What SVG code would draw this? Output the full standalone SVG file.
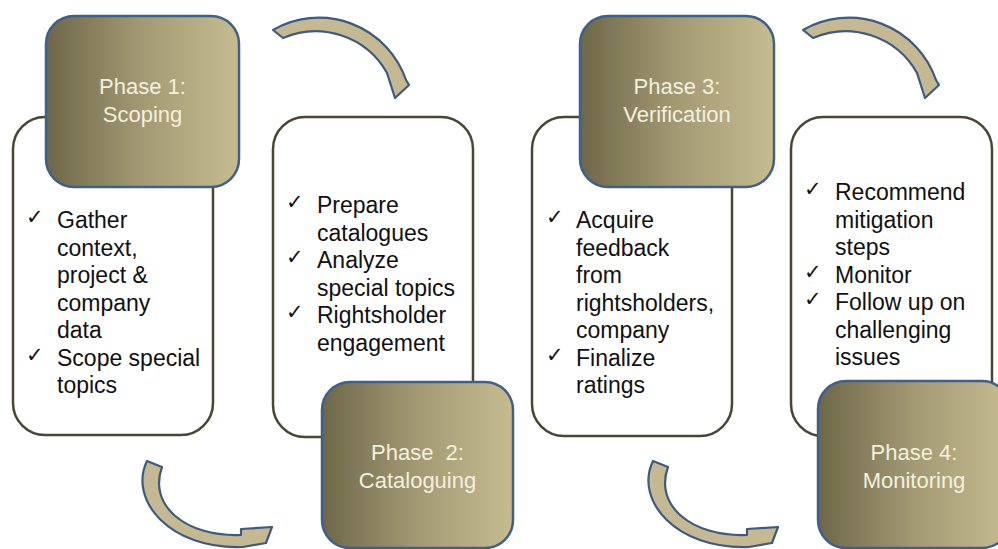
<svg xmlns="http://www.w3.org/2000/svg" width="998" height="549" viewBox="0 0 998 549">
<defs>
<linearGradient id="phaseGrad" x1="0" y1="0" x2="1" y2="0">
<stop offset="0" stop-color="#6e6747"/>
<stop offset="0.5" stop-color="#a39a74"/>
<stop offset="1" stop-color="#c6bc90"/>
</linearGradient>
</defs>
<style>
.white{fill:#ffffff;stroke:#4a4632;stroke-width:2.5}
.phase{fill:url(#phaseGrad);stroke:#3f5f8c;stroke-width:2.5}
.arrow{fill:#c4b990;stroke:#3e5a80;stroke-width:2.2;stroke-linejoin:round}
.ptxt{font-family:"Liberation Sans",Arial,sans-serif;font-size:22px;fill:#f4f0de;text-anchor:middle}
.btxt{font-family:"Liberation Sans",Arial,sans-serif;font-size:23px;fill:#111111}
.chk{font-family:"DejaVu Sans",sans-serif;font-size:21px;fill:#111111}
</style>
<rect width="998" height="549" fill="#ffffff"/>
<g id="connectors">
<path id="arrow-1-2" class="arrow" d="M273,30 A92,92 0 0 1 406,80 L409,85 L395,98 L387,73 A82,82 0 0 0 283,38 Z"/>
<path id="arrow-2-3" class="arrow" transform="translate(530,0)" d="M273,30 A92,92 0 0 1 406,80 L409,85 L395,98 L387,73 A82,82 0 0 0 283,38 Z"/>
<path id="arrow-1-2b" class="arrow" d="M147,461 C128,500 170,550 243,547 L266,543 L272,527 L241,529 L241,535 C185,537 148,505 162,467 Z"/>
<path id="arrow-3-4b" class="arrow" transform="translate(506,0)" d="M147,461 C128,500 170,550 243,547 L266,543 L272,527 L241,529 L241,535 C185,537 148,505 162,467 Z"/>
</g>
<g id="box1">
<rect class="white" x="13" y="117" width="200" height="318" rx="32"/>
<text class="chk" x="26" y="224">✓</text>
<text class="btxt" x="57" y="228">Gather</text>
<text class="btxt" x="57" y="255.5">context,</text>
<text class="btxt" x="57" y="283">project &amp;</text>
<text class="btxt" x="57" y="310.5">company</text>
<text class="btxt" x="57" y="338">data</text>
<text class="chk" x="26" y="361.5">✓</text>
<text class="btxt" x="57" y="365.5">Scope special</text>
<text class="btxt" x="57" y="393">topics</text>
</g>
<g id="phase1">
<rect class="phase" x="46" y="16" width="193" height="171" rx="28"/>
<text class="ptxt" x="142.5" y="94">Phase 1:</text>
<text class="ptxt" x="142.5" y="122">Scoping</text>
</g>
<g id="box2">
<rect class="white" x="273" y="117" width="200" height="320" rx="32"/>
<text class="chk" x="286" y="209">✓</text>
<text class="btxt" x="317" y="213">Prepare</text>
<text class="btxt" x="317" y="240.5">catalogues</text>
<text class="chk" x="286" y="264">✓</text>
<text class="btxt" x="317" y="268">Analyze</text>
<text class="btxt" x="317" y="295.5">special topics</text>
<text class="chk" x="286" y="319">✓</text>
<text class="btxt" x="317" y="323">Rightsholder</text>
<text class="btxt" x="317" y="350.5">engagement</text>
</g>
<g id="phase2">
<rect class="phase" x="322" y="382" width="191" height="166" rx="28"/>
<text class="ptxt" x="417.5" y="460" xml:space="preserve">Phase  2:</text>
<text class="ptxt" x="417.5" y="488">Cataloguing</text>
</g>
<g id="box3">
<rect class="white" x="532" y="117" width="200" height="319" rx="32"/>
<text class="chk" x="546" y="224">✓</text>
<text class="btxt" x="576" y="228">Acquire</text>
<text class="btxt" x="576" y="255.5">feedback</text>
<text class="btxt" x="576" y="283">from</text>
<text class="btxt" x="576" y="310.5">rightsholders,</text>
<text class="btxt" x="576" y="338">company</text>
<text class="chk" x="546" y="361.5">✓</text>
<text class="btxt" x="576" y="365.5">Finalize</text>
<text class="btxt" x="576" y="393">ratings</text>
</g>
<g id="phase3">
<rect class="phase" x="580" y="16" width="194" height="171" rx="28"/>
<text class="ptxt" x="677" y="94">Phase 3:</text>
<text class="ptxt" x="677" y="122">Verification</text>
</g>
<g id="box4">
<rect class="white" x="791" y="117" width="201" height="319" rx="32"/>
<text class="chk" x="804" y="196">✓</text>
<text class="btxt" x="835" y="200">Recommend</text>
<text class="btxt" x="835" y="227.5">mitigation</text>
<text class="btxt" x="835" y="255">steps</text>
<text class="chk" x="804" y="278.5">✓</text>
<text class="btxt" x="835" y="282.5">Monitor</text>
<text class="chk" x="804" y="306">✓</text>
<text class="btxt" x="835" y="310">Follow up on</text>
<text class="btxt" x="835" y="337.5">challenging</text>
<text class="btxt" x="835" y="365">issues</text>
</g>
<g id="phase4">
<rect class="phase" x="818" y="381" width="192" height="167" rx="28"/>
<text class="ptxt" x="914" y="460">Phase 4:</text>
<text class="ptxt" x="914" y="488">Monitoring</text>
</g>
</svg>
